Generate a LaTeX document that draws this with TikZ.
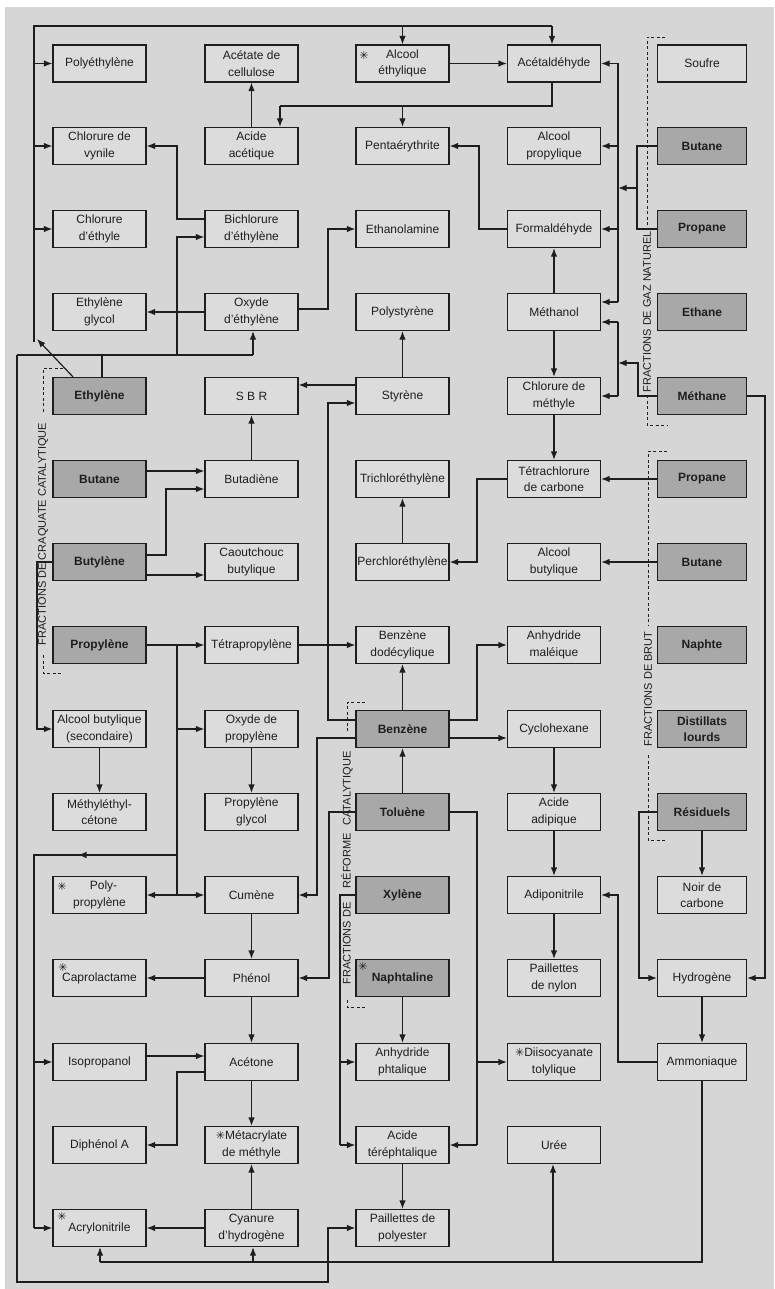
\documentclass[tikz,border=0pt]{standalone}
\usepackage{fontspec}
\setmainfont{Liberation Sans}
\newfontfamily\symfont{DejaVu Sans}
\usetikzlibrary{arrows.meta,calc}
\definecolor{bgc}{RGB}{214,214,214}
\definecolor{boxc}{RGB}{220,220,220}
\definecolor{srcc}{RGB}{168,168,168}
\definecolor{inkc}{RGB}{30,30,30}
\newcommand\stx{{\symfont\fontsize{11}{11}\selectfont ✳}}
\begin{document}
\begin{tikzpicture}[x=1pt,y=-1pt,
  box/.style={draw=inkc,line width=1.2pt,fill=boxc,minimum width=93pt,minimum height=37pt,inner sep=0pt,align=center,font=\fontsize{12}{16.5}\selectfont,text=inkc},
  src/.style={box,fill=srcc,font=\fontsize{12}{16.5}\selectfont\bfseries},
  boxE/.style={minimum width=89pt},
  ln/.style={draw=inkc,line width=1.2pt},
  ar/.style={ln,-{Latex[length=8.5pt,width=6.5pt]}},
  brk/.style={draw=inkc,line width=0.9pt,dash pattern=on 3pt off 2.5pt},
  lbl/.style={font=\fontsize{11}{11}\selectfont,text=inkc,rotate=90,inner sep=0pt},
  ast/.style={font=\symfont\fontsize{11}{11}\selectfont,text=inkc,inner sep=0pt}
]
\useasboundingbox (0,0) rectangle (774,1289);
\fill[white] (0,0) rectangle (774,1289);
\fill[bgc] (5,7) rectangle (774,1289);

% ---------- column A ----------
\node[box] (polyeth) at (99.5,63.5) {Polyéthylène};
\node[box] (chlvyn) at (99.5,146) {Chlorure de\\vynile};
\node[box] (chleth) at (99.5,229) {Chlorure\\d'éthyle};
\node[box] (ethglyc) at (99.5,312) {Ethylène\\glycol};
\node[src] (ethylene) at (99.5,396) {Ethylène};
\node[src] (cbutane) at (99.5,479) {Butane};
\node[src] (butylene) at (99.5,562) {Butylène};
\node[src] (propylene) at (99.5,645) {Propylène};
\node[box] (alcbutsec) at (99.5,729) {Alcool butylique\\(secondaire)};
\node[box] (mec) at (99.5,812) {Méthyléthyl-\\cétone};
\node[box] (polyprop) at (99.5,895) {\hspace*{8pt}Poly-\\propylène};
\node[box] (caprol) at (99.5,978) {Caprolactame};
\node[box] (isoprop) at (99.5,1062) {Isopropanol};
\node[box] (diphenol) at (99.5,1145) {Diphénol A};
\node[box] (acrylo) at (99.5,1228) {Acrylonitrile};

% ---------- column B ----------
\node[box] (acetcell) at (251.5,63.5) {Acétate de\\cellulose};
\node[box] (acac) at (251.5,146) {Acide\\acétique};
\node[box] (bichl) at (251.5,229) {Bichlorure\\d'éthylène};
\node[box] (oxeth) at (251.5,312) {Oxyde\\d'éthylène};
\node[box] (sbr) at (251.5,396) {S B R};
\node[box] (butadiene) at (251.5,479) {Butadiène};
\node[box] (caout) at (251.5,562) {Caoutchouc\\butylique};
\node[box] (tetraprop) at (251.5,645) {Tétrapropylène};
\node[box] (oxprop) at (251.5,729) {Oxyde de\\propylène};
\node[box] (propglyc) at (251.5,812) {Propylène\\glycol};
\node[box] (cumene) at (251.5,895) {Cumène};
\node[box] (phenol) at (251.5,978) {Phénol};
\node[box] (acetone) at (251.5,1062) {Acétone};
\node[box] (metacr) at (251.5,1145) {\stx Métacrylate\\de méthyle};
\node[box] (cyanure) at (251.5,1228) {Cyanure\\d'hydrogène};

% ---------- column C ----------
\node[box] (alceth) at (402.5,63.5) {Alcool\\éthylique};
\node[box] (penta) at (402.5,146) {Pentaérythrite};
\node[box] (ethanolam) at (402.5,229) {Ethanolamine};
\node[box] (polysty) at (402.5,312) {Polystyrène};
\node[box] (styrene) at (402.5,396) {Styrène};
\node[box] (trichl) at (402.5,479) {Trichloréthylène};
\node[box] (perchl) at (402.5,562) {Perchloréthylène};
\node[box] (benzdod) at (402.5,645) {Benzène\\dodécylique};
\node[src] (benzene) at (402.5,729) {Benzène};
\node[src] (toluene) at (402.5,812) {Toluène};
\node[src] (xylene) at (402.5,895) {Xylène};
\node[src] (naphtal) at (402.5,978) {Naphtaline};
\node[box] (anhphta) at (402.5,1062) {Anhydride\\phtalique};
\node[box] (acter) at (402.5,1145) {Acide\\téréphtalique};
\node[box] (pailpoly) at (402.5,1228) {Paillettes de\\polyester};

% ---------- column D ----------
\node[box] (acetald) at (554,63.5) {Acétaldéhyde};
\node[box] (alcprop) at (554,146) {Alcool\\propylique};
\node[box] (formald) at (554,229) {Formaldéhyde};
\node[box] (methanol) at (554,312) {Méthanol};
\node[box] (chlmeth) at (554,396) {Chlorure de\\méthyle};
\node[box] (tetrachl) at (554,479) {Tétrachlorure\\de carbone};
\node[box] (alcbut) at (554,562) {Alcool\\butylique};
\node[box] (anhmal) at (554,645) {Anhydride\\maléique};
\node[box] (cyclohex) at (554,729) {Cyclohexane};
\node[box] (acadip) at (554,812) {Acide\\adipique};
\node[box] (adipon) at (554,895) {Adiponitrile};
\node[box] (pailnyl) at (554,978) {Paillettes\\de nylon};
\node[box] (diiso) at (554,1062) {\stx Diisocyanate\\tolylique};
\node[box] (uree) at (554,1145) {Urée};

% ---------- column E ----------
\node[box,boxE] (soufre) at (702,63.5) {Soufre};
\node[src,boxE] (gbutane) at (702,146) {Butane};
\node[src,boxE] (gpropane) at (702,229) {Propane};
\node[src,boxE] (ethane) at (702,312) {Ethane};
\node[src,boxE] (methane) at (702,396) {Méthane};
\node[src,boxE] (bpropane) at (702,479) {Propane};
\node[src,boxE] (bbutane) at (702,562) {Butane};
\node[src,boxE] (naphte) at (702,645) {Naphte};
\node[src,boxE] (distill) at (702,729) {Distillats\\lourds};
\node[src,boxE] (resid) at (702,812) {Résiduels};
\node[box,boxE] (noir) at (702,895) {Noir de\\carbone};
\node[box,boxE] (hydrog) at (702,978) {Hydrogène};
\node[box,boxE] (ammon) at (702,1062) {Ammoniaque};

% ---------- asterisks ----------
\node[ast] (s1) at (364,55) {✳};
\node[ast] (s2) at (62,886) {✳};
\node[ast] (s3) at (63,967) {✳};
\node[ast] (s4) at (62,1216) {✳};
\node[ast] (s5) at (363,966) {✳};

% ---------- brackets ----------
\draw[brk] (665,37) -- (647,37) -- (647,230);
\draw[brk] (647,395) -- (647,425) -- (667,425);
\node[lbl] (lgas) at (647,312) {FRACTIONS DE GAZ NATUREL};
\draw[brk] (667,451) -- (648,451) -- (648,625);
\draw[brk] (648,755) -- (648,840) -- (667,840);
\node[lbl] (lbrut) at (648,689) {FRACTIONS DE BRUT};
\draw[brk] (63,368) -- (43,368) -- (43,413);
\draw[brk] (43,655) -- (43,673) -- (63,673);
\node[lbl] (lcraq) at (43,534) {FRACTIONS DE CRAQUATE CATALYTIQUE};
\draw[brk] (365,702) -- (347,702) -- (347,733);
\draw[brk] (347,1000) -- (347,1007) -- (365,1007);
\node[lbl] (lref) at (347,868) {FRACTIONS DE\hspace{1.3em}RÉFORME\hspace{0.7em}CATALYTIQUE};

% ---------- ethylene network ----------
\draw[ln] (ethylene.north -| 102,0) -- (102,355);
\draw[ln] (17,355) -- (253,355);
\draw[ar] (253,355) -- (oxeth.south -| 253,0);
\draw[ar] (177,355) -- (177,237) -- (bichl.west |- 0,237);
\draw[ar] (ethylene.north -| 73,0) -- (37,339);
\draw[ln] (34,342) -- (34,26) -- (552,26);
\draw[ar] (402.5,26) -- (alceth.north);
\draw[ar] (552,26) -- (acetald.north -| 552,0);
\draw[ar] (34,63.5) -- (polyeth.west);
\draw[ar] (34,146) -- (chlvyn.west);
\draw[ar] (34,229) -- (chleth.west);
\draw[ar] (17,355) -- (17,1282) -- (328,1282) -- (328,1228) -- (pailpoly.west);
\draw[ar] (bichl.west |- 0,219) -- (177,219) -- (177,146) -- (chlvyn.east);
\draw[ar] (oxeth.west) -- (ethglyc.east);
\draw[ar] (oxeth.east |- 0,309) -- (328,309) -- (328,229) -- (ethanolam.west);
\draw[ar] (acac.north) -- (acetcell.south);
\draw[ln] (acetald.south -| 552,0) -- (552,106) -- (280,106);
\draw[ar] (280,106) -- (acac.north -| 280,0);
\draw[ar] (402.5,106) -- (penta.north);
\draw[ar] (alceth.east) -- (acetald.west);

% ---------- methane / gas network ----------
\draw[ar] (formald.west) -- (479,229) -- (479,146) -- (penta.east);
\draw[ar] (methanol.north) -- (formald.south);
\draw[ar] (methanol.south) -- (chlmeth.north);
\draw[ar] (chlmeth.south) -- (tetrachl.north);
\draw[ln] (618,63.5) -- (618,302);
\draw[ar] (618,63.5) -- (acetald.east);
\draw[ar] (618,146) -- (alcprop.east);
\draw[ar] (618,229) -- (formald.east);
\draw[ar] (618,302) -- (methanol.east |- 0,302);
\draw[ln] (gbutane.west) -- (637,146) -- (637,229) -- (gpropane.west);
\draw[ar] (637,188) -- (618,188);
\draw[ln] (618,322) -- (618,396);
\draw[ar] (618,322) -- (methanol.east |- 0,322);
\draw[ar] (618,396) -- (chlmeth.east);
\draw[ar] (methane.west) -- (638,396) -- (638,363) -- (618,363);
\draw[ar] (methane.east) -- (765,396) -- (765,978) -- (hydrog.east);

% ---------- crude / chlorinated ----------
\draw[ar] (bpropane.west) -- (tetrachl.east);
\draw[ar] (bbutane.west) -- (alcbut.east);
\draw[ar] (tetrachl.west) -- (477,479) -- (477,562) -- (perchl.east);
\draw[ar] (perchl.north) -- (trichl.south);
\draw[ar] (styrene.north) -- (polysty.south);
\draw[ar] (styrene.west |- 0,385) -- (sbr.east |- 0,385);
\draw[ar] (benzene.west |- 0,720) -- (328,720) -- (328,403) -- (styrene.west |- 0,403);
\draw[ar] (butadiene.north) -- (sbr.south);
\draw[ar] (cbutane.east |- 0,471) -- (butadiene.west |- 0,471);
\draw[ar] (butylene.east |- 0,555) -- (166,555) -- (166,489) -- (butadiene.west |- 0,489);
\draw[ar] (butylene.east |- 0,575) -- (caout.west |- 0,575);
\draw[ar] (butylene.west) -- (37,562) -- (37,729) -- (alcbutsec.west);
\draw[ar] (alcbutsec.south) -- (mec.north);

% ---------- propylene ----------
\draw[ar] (propylene.east) -- (tetraprop.west);
\draw[ln] (177,645) -- (177,895);
\draw[ar] (177,729) -- (oxprop.west);
\draw[ar] (177,895) -- (cumene.west);
\draw[ar] (177,895) -- (polyprop.east);
\draw[ln] (177,855) -- (34,855) -- (34,1228);
\draw[ar] (177,855) -- (78,855);
\draw[ar] (34,1062) -- (isoprop.west);
\draw[ar] (34,1228) -- (acrylo.west);
\draw[ar] (tetraprop.east) -- (benzdod.west);
\draw[ar] (oxprop.south) -- (propglyc.north);

% ---------- aromatics ----------
\draw[ar] (benzene.north) -- (benzdod.south);
\draw[ar] (benzene.east |- 0,720) -- (477,720) -- (477,645) -- (anhmal.west);
\draw[ar] (benzene.east |- 0,738) -- (cyclohex.west |- 0,738);
\draw[ar] (benzene.west |- 0,738) -- (317,738) -- (317,895) -- (cumene.east);
\draw[ar] (toluene.north) -- (benzene.south);
\draw[ar] (toluene.west) -- (329,812) -- (329,978) -- (phenol.east);
\draw[ln] (toluene.east) -- (477,812) -- (477,1145);
\draw[ar] (477,1062) -- (diiso.west);
\draw[ar] (477,1145) -- (acter.east);
\draw[ln] (xylene.west) -- (340,895) -- (340,1145);
\draw[ar] (340,1062) -- (anhphta.west);
\draw[ar] (340,1145) -- (acter.west);
\draw[ar] (naphtal.south) -- (anhphta.north);
\draw[ar] (acter.south) -- (pailpoly.north);

% ---------- phenol / acetone ----------
\draw[ar] (cumene.south) -- (phenol.north);
\draw[ar] (phenol.west) -- (caprol.east);
\draw[ar] (phenol.south) -- (acetone.north);
\draw[ar] (isoprop.east |- 0,1056) -- (acetone.west |- 0,1056);
\draw[ar] (acetone.west |- 0,1072) -- (177,1072) -- (177,1145) -- (diphenol.east);
\draw[ar] (acetone.south) -- (metacr.north);
\draw[ar] (cyanure.north) -- (metacr.south);
\draw[ar] (cyanure.west) -- (acrylo.east);

% ---------- ammonia / nylon / residues ----------
\draw[ln] (ammon.south) -- (702,1262) -- (100,1262);
\draw[ar] (553,1262) -- (uree.south -| 553,0);
\draw[ar] (253,1262) -- (cyanure.south -| 253,0);
\draw[ar] (100,1262) -- (acrylo.south -| 100,0);
\draw[ar] (ammon.west) -- (618,1062) -- (618,895) -- (adipon.east);
\draw[ar] (cyclohex.south) -- (acadip.north);
\draw[ar] (acadip.south) -- (adipon.north);
\draw[ar] (adipon.south) -- (pailnyl.north);
\draw[ar] (resid.south) -- (noir.north);
\draw[ar] (resid.west) -- (639,812) -- (639,978) -- (hydrog.west);
\draw[ar] (hydrog.south) -- (ammon.north);
\end{tikzpicture}
\end{document}
